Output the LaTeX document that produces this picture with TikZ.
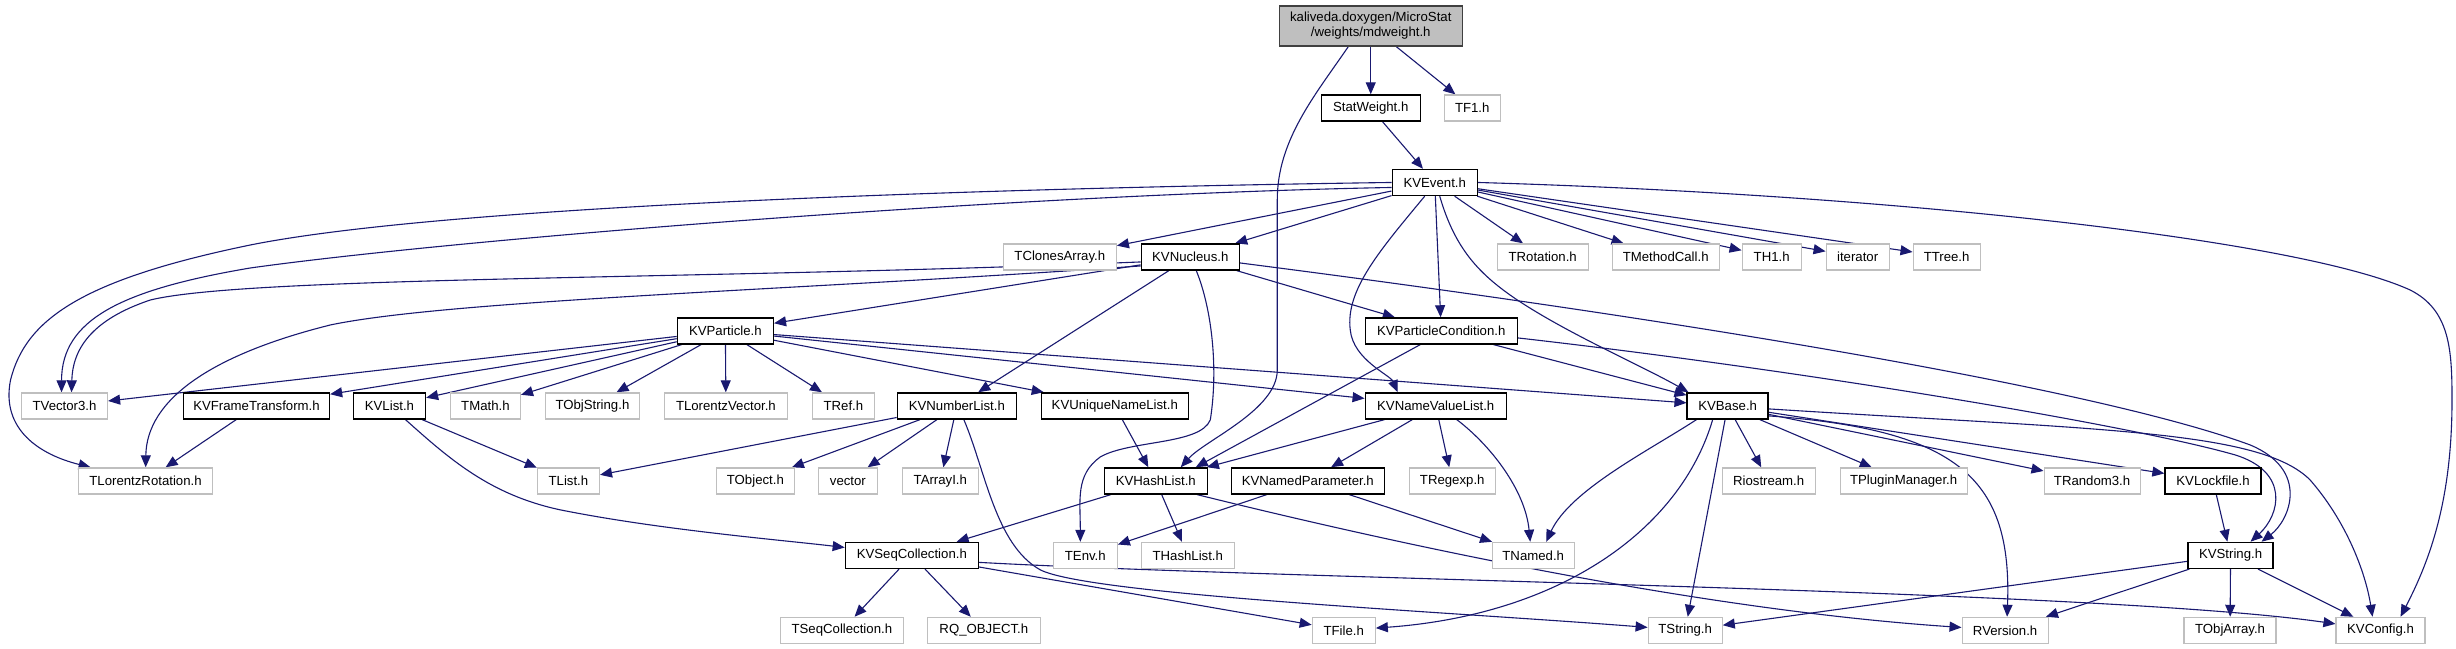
\documentclass[tikz,border=0pt]{standalone}
\usepackage{fontspec}
\setmainfont{Liberation Sans}
\usetikzlibrary{arrows.meta,calc}
\definecolor{edgeblue}{HTML}{191970}
\definecolor{extgray}{HTML}{BFBFBF}
\definecolor{rootborder}{HTML}{404040}
\newcommand\gvfont{\fontsize{13.2pt}{15pt}\selectfont}
\pgfdeclarelayer{bg}
\pgfdeclarelayer{edges}
\pgfsetlayers{bg,edges,main}
\tikzset{
  box/.style={rectangle, minimum height=26pt, inner sep=0pt, font=\gvfont, text=black},
  doc/.style={box, draw=black, line width=1.4pt, fill=white},
  ext/.style={box, draw=extgray, line width=1.2pt, fill=white},
  root/.style={box, draw=rootborder, line width=1.4pt, fill=extgray, minimum height=40pt, align=center},
  dep/.style={draw=edgeblue, line width=1.1pt, -{Triangle[length=12pt,width=10pt]}},
}
\begin{document}
\begin{tikzpicture}[x=1pt,y=-1pt]
\begin{pgfonlayer}{bg}
\fill[white] (0,0) rectangle (2456,649);
\end{pgfonlayer}
% row 0
\node[root, minimum width=183pt] (top) at (1370.5,26) {kaliveda.doxygen/MicroStat\\/weights/mdweight.h};
% row 1
\node[doc, minimum width=99pt] (stat) at (1370.5,108) {StatWeight.h};
\node[ext, minimum width=56pt] (tf1) at (1472,108) {TF1.h};
% row 2
\node[doc, minimum width=85pt] (kvevent) at (1434.5,182.5) {KVEvent.h};
% row 3
\node[ext, minimum width=113pt] (tclones) at (1059.5,257) {TClonesArray.h};
\node[doc, minimum width=98pt] (kvnucleus) at (1190,257) {KVNucleus.h};
\node[ext, minimum width=91pt] (trotation) at (1542.5,257) {TRotation.h};
\node[ext, minimum width=107pt] (tmethodcall) at (1665.5,257) {TMethodCall.h};
\node[ext, minimum width=59pt] (th1) at (1771.5,257) {TH1.h};
\node[ext, minimum width=63pt] (iterator) at (1857.5,257) {iterator};
\node[ext, minimum width=67pt] (ttree) at (1946.5,257) {TTree.h};
% row 4
\node[doc, minimum width=96pt] (kvparticle) at (725,331) {KVParticle.h};
\node[doc, minimum width=152pt] (kvpc) at (1441,331) {KVParticleCondition.h};
% row 5
\node[ext, minimum width=86pt] (tvector3) at (64,406) {TVector3.h};
\node[doc, minimum width=146pt] (kvframe) at (256,406) {KVFrameTransform.h};
\node[doc, minimum width=72pt] (kvlist) at (389,406) {KVList.h};
\node[ext, minimum width=70pt] (tmath) at (485,406) {TMath.h};
\node[ext, minimum width=94pt] (tobjstring) at (592,406) {TObjString.h};
\node[ext, minimum width=123pt] (tlorentzvector) at (725.5,406) {TLorentzVector.h};
\node[ext, minimum width=62pt] (tref) at (843,406) {TRef.h};
\node[doc, minimum width=119pt] (kvnumberlist) at (956.5,406) {KVNumberList.h};
\node[doc, minimum width=147pt] (kvunique) at (1114.5,406) {KVUniqueNameList.h};
\node[doc, minimum width=141pt] (kvnvl) at (1435.5,406) {KVNameValueList.h};
\node[doc, minimum width=81pt] (kvbase) at (1727.5,406) {KVBase.h};
% row 6
\node[ext, minimum width=134pt] (tlorentzrotation) at (145,481) {TLorentzRotation.h};
\node[ext, minimum width=62pt] (tlist) at (568,481) {TList.h};
\node[ext, minimum width=78pt] (tobject) at (755,481) {TObject.h};
\node[ext, minimum width=59pt] (vector) at (847.5,481) {vector};
\node[ext, minimum width=76pt] (tarrayi) at (940,481) {TArrayI.h};
\node[doc, minimum width=103pt] (kvhashlist) at (1155.5,481) {KVHashList.h};
\node[doc, minimum width=153pt] (kvnamedparam) at (1307.5,481) {KVNamedParameter.h};
\node[ext, minimum width=86pt] (tregexp) at (1452,481) {TRegexp.h};
\node[ext, minimum width=93pt] (riostream) at (1768.5,481) {Riostream.h};
\node[ext, minimum width=127pt] (tpluginmanager) at (1903.5,481) {TPluginManager.h};
\node[ext, minimum width=96pt] (trandom3) at (2092,481) {TRandom3.h};
\node[doc, minimum width=96pt] (kvlockfile) at (2213,481) {KVLockfile.h};
% row 7
\node[doc, minimum width=133pt] (kvseqcoll) at (911.5,555.5) {KVSeqCollection.h};
\node[ext, minimum width=64pt] (tenv) at (1085,555.5) {TEnv.h};
\node[ext, minimum width=93pt] (thashlist) at (1187.5,555.5) {THashList.h};
\node[ext, minimum width=82pt] (tnamed) at (1533,555.5) {TNamed.h};
\node[doc, minimum width=85pt] (kvstring) at (2230.5,555.5) {KVString.h};
% row 8
\node[ext, minimum width=123pt] (tseqcoll) at (841.5,630.5) {TSeqCollection.h};
\node[ext, minimum width=113pt] (rqobject) at (983.5,630.5) {RQ\_OBJECT.h};
\node[ext, minimum width=63pt] (tfile) at (1343.5,630.5) {TFile.h};
\node[ext, minimum width=74pt] (tstring) at (1685,630.5) {TString.h};
\node[ext, minimum width=86pt] (rversion) at (2005,630.5) {RVersion.h};
\node[ext, minimum width=92pt] (tobjarray) at (2230,630.5) {TObjArray.h};
\node[ext, minimum width=89pt] (kvconfig) at (2380.5,630.5) {KVConfig.h};

\begin{pgfonlayer}{edges}
% straight connectors
\foreach \a/\b in {top/stat, top/tf1, stat/kvevent,
  kvevent/tclones, kvevent/kvnucleus, kvevent/trotation, kvevent/tmethodcall,
  kvevent/th1, kvevent/iterator, kvevent/ttree, kvevent/kvpc,
  kvnucleus/kvparticle, kvnucleus/kvnumberlist, kvnucleus/kvpc,
  kvparticle/tvector3, kvparticle/kvframe, kvparticle/kvlist, kvparticle/tmath,
  kvparticle/tobjstring, kvparticle/tlorentzvector, kvparticle/tref,
  kvparticle/kvunique, kvparticle/kvnvl, kvparticle/kvbase,
  kvpc/kvbase,
  kvframe/tlorentzrotation, kvlist/tlist,
  kvnumberlist/tlist, kvnumberlist/tobject, kvnumberlist/vector, kvnumberlist/tarrayi,
  kvunique/kvhashlist, kvnvl/kvhashlist, kvnvl/kvnamedparam, kvnvl/tregexp,
  kvhashlist/kvseqcoll, kvhashlist/thashlist,
  kvnamedparam/tenv, kvnamedparam/tnamed,
  kvbase/tstring, kvbase/riostream, kvbase/tpluginmanager, kvbase/trandom3, kvbase/kvlockfile,
  kvlockfile/kvstring,
  kvseqcoll/tseqcoll, kvseqcoll/rqobject, kvseqcoll/tfile,
  kvstring/tstring, kvstring/rversion, kvstring/tobjarray, kvstring/kvconfig}
  {\draw[dep] (\a) -- (\b);}

\draw[dep] ($(kvpc.south)+(-21,0)$) -- ($(kvhashlist.north)+(40,0)$);

% curved connectors
\draw[dep] ($(top.south)+(-22.5,0)$) .. controls (1315,95) and (1277,140) .. (1277,200)
  -- (1277,370) .. controls (1277,410) and (1205,440) .. ($(kvhashlist.north)+(25,0)$);
\draw[dep] (kvevent.west) .. controls (1000,188) and (450,205) .. (250,245)
  .. controls (80,280) and (25,320) .. (10,380)
  .. controls (0,430) and (40,455) .. (tlorentzrotation);
\draw[dep] ($(kvevent.west)+(0,5)$) .. controls (1000,195) and (450,240) .. (250,268)
  .. controls (120,290) and (61,320) .. ($(tvector3.north)+(-3,0)$);
\draw[dep] ($(kvnucleus.west)+(0,5)$) .. controls (700,280) and (250,276) .. (150,300)
  .. controls (90,320) and (72,350) .. ($(tvector3.north)+(7,0)$);
\draw[dep] ($(kvnucleus.west)+(0,9)$) .. controls (800,290) and (450,300) .. (330,325)
  .. controls (210,355) and (146,400) .. (tlorentzrotation);
\draw[dep] ($(kvevent.south)+(-10,0)$) .. controls (1380,250) and (1345,290) .. (1350,330)
  .. controls (1353,360) and (1390,375) .. ($(kvnvl.north)+(-38,0)$);
\draw[dep] ($(kvevent.south)+(5,0)$) .. controls (1455,250) and (1480,275) .. (1517,300)
  .. controls (1570,335) and (1640,365) .. ($(kvbase.north west)+(2,0)$);
\draw[dep] (kvevent.east) .. controls (1900,195) and (2300,240) .. (2410,290)
  .. controls (2450,310) and (2452,350) .. (2452,400)
  .. controls (2452,500) and (2430,560) .. ($(kvconfig.north)+(20,0)$);
\draw[dep] ($(kvnucleus.south)+(6,0)$) .. controls (1212,310) and (1218,370) .. (1210,420)
  .. controls (1200,445) and (1130,440) .. (1100,457)
  .. controls (1075,475) and (1080,500) .. ($(tenv.north)+(-5,0)$);
\draw[dep] ($(kvnucleus.east)+(0,6)$) .. controls (1700,322) and (2100,390) .. (2250,445)
  .. controls (2310,470) and (2290,520) .. ($(kvstring.north)+(31,0)$);
\draw[dep] ($(kvpc.east)+(0,7)$) .. controls (1800,370) and (2130,425) .. (2235,455)
  .. controls (2290,472) and (2280,515) .. ($(kvstring.north)+(20,0)$);
\draw[dep] ($(kvlist.south)+(16,0)$) .. controls (450,460) and (490,495) .. (560,510)
  .. controls (660,530) and (780,540) .. (kvseqcoll);
\draw[dep] ($(kvnumberlist.south)+(7,0)$) .. controls (985,470) and (995,545) .. (1040,570)
  .. controls (1090,595) and (1450,612) .. (tstring);
\draw[dep] ($(kvnvl.south)+(21,0)$) .. controls (1490,445) and (1525,490) .. ($(tnamed.north)+(-3,0)$);
\draw[dep] ($(kvhashlist.south east)+(-11,0)$) .. controls (1400,545) and (1700,610) .. (rversion);
\draw[dep] ($(kvseqcoll.east)+(0,7)$) .. controls (1300,580) and (2100,590) .. (kvconfig);
\draw[dep] ($(kvbase.south west)+(10,0)$) .. controls (1650,450) and (1570,490) .. ($(tnamed.north)+(13,0)$);
\draw[dep] ($(kvbase.south)+(-15,0)$) .. controls (1680,530) and (1560,615) .. (tfile);
\draw[dep] ($(kvbase.east)+(0,10)$) .. controls (1960,430) and (2012,480) .. ($(rversion.north)+(2,0)$);
\draw[dep] ($(kvbase.east)+(0,3)$) .. controls (2100,430) and (2260,430) .. (2310,480)
  .. controls (2345,520) and (2365,570) .. ($(kvconfig.north)+(-8,0)$);
\end{pgfonlayer}
\end{tikzpicture}
\end{document}
